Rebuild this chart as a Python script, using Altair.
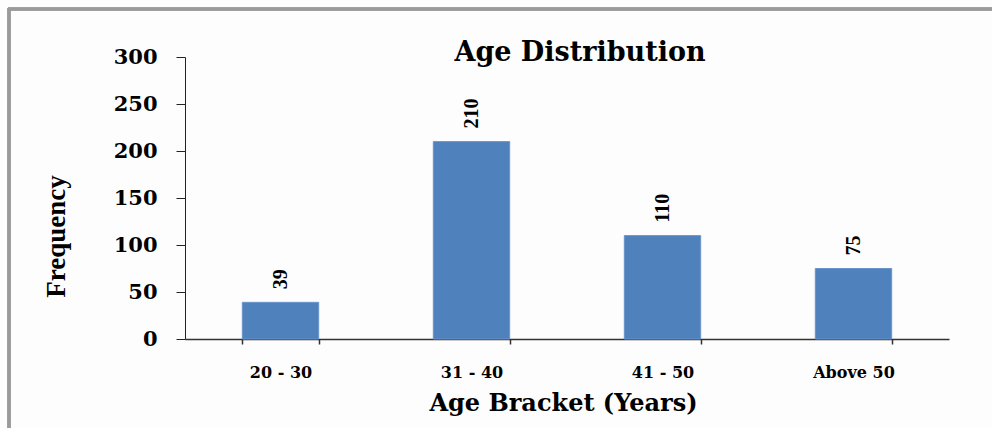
import altair as alt
import pandas as pd

categories = ["20 - 30", "31 - 40", "41 - 50", "Above 50"]
frequency = [39, 210, 110, 75]

df = pd.DataFrame({"bracket": categories, "freq": frequency})

H_FONT = "DejaVu Serif"
V_FONT = "Liberation Serif"

x_enc = alt.X(
    "bracket:N",
    sort=categories,
    scale=alt.Scale(paddingInner=0.6, paddingOuter=0.3),
    axis=alt.Axis(
        title="Age Bracket (Years)",
        titleFont=H_FONT, titleFontSize=24, titleFontWeight="bold", titleColor="black",
        titleBaseline="alphabetic", titleY=71, titleX=378, titleAnchor="middle",
        labelFont=H_FONT, labelFontSize=16, labelFontWeight="bold", labelColor="black",
        labelAngle=0, labelBaseline="alphabetic", labelPadding=33,
        tickBand="extent", tickSize=5, tickColor="#333", tickWidth=1.5,
        domainColor="#333", domainWidth=1.5, grid=False,
    ),
)

y_enc = alt.Y(
    "freq:Q",
    scale=alt.Scale(domain=[0, 300]),
    axis=alt.Axis(
        values=[0, 50, 100, 150, 200, 250, 300],
        title="Frequency",
        titleFont=V_FONT, titleFontSize=27, titleFontWeight="bold", titleColor="black",
        titleAngle=-90, titleBaseline="alphabetic", titleAlign="center",
        titleX=-121, titleY=179,
        labelFont=H_FONT, labelFontSize=21, labelFontWeight="bold", labelColor="black",
        labelPadding=19, tickSize=9, tickColor="#222", domainColor="#222",
        grid=False,
    ),
)

bars = alt.Chart(df).mark_bar(color="#4F81BD", stroke="#6A95CA", strokeWidth=1).encode(
    x=x_enc, y=y_enc
)

labels = alt.Chart(df).mark_text(
    angle=270, align="left", baseline="middle", dx=13,
    font=V_FONT, fontSize=20, fontWeight="bold", color="black",
).encode(
    x=alt.X("bracket:N", sort=categories),
    y="freq:Q",
    text="freq:Q",
)

border_left = alt.Chart(df).mark_rule(color="#9A9A9A", strokeWidth=3).encode(
    x=alt.value(-176), y=alt.value(-49), y2=alt.value(380)
)
border_top = alt.Chart(df).mark_rule(color="#9A9A9A", strokeWidth=3).encode(
    x=alt.value(-177), x2=alt.value(820), y=alt.value(-48)
)

chart = alt.layer(border_left, border_top, bars, labels).properties(
    width=764,
    height=282,
    title=alt.TitleParams(
        "Age Distribution", font=H_FONT, fontSize=27, fontWeight="bold",
        color="black", anchor="middle", baseline="alphabetic", offset=-81, dx=13,
    ),
    autosize=alt.AutoSizeParams(type="none"),
    padding={"left": 185, "top": 57, "right": 43, "bottom": 89},
    background="#FDFDFD",
).configure_view(strokeWidth=0)

chart.save("out.html", embed_options={"renderer": "svg", "actions": False})
